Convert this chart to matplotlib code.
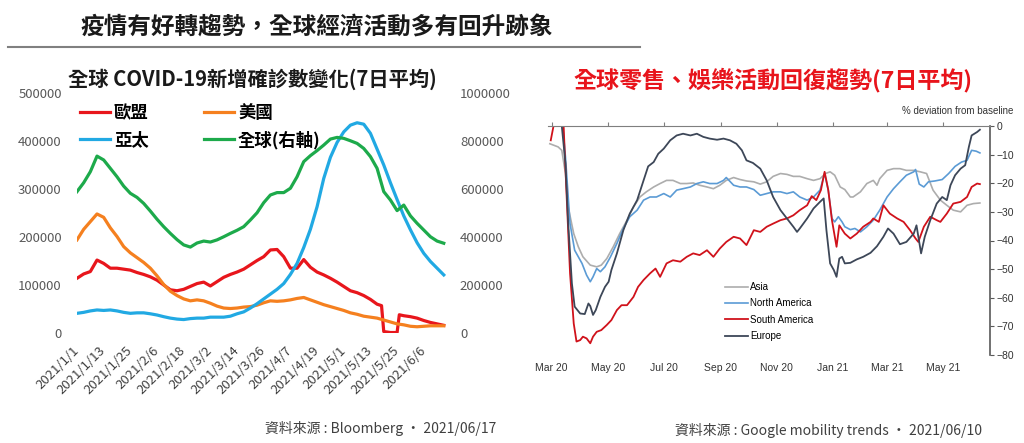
import numpy as np
import matplotlib
matplotlib.use("Agg")
import matplotlib.pyplot as plt
import matplotlib.dates as mdates
from matplotlib.lines import Line2D

plt.rcParams['font.family'] = ['Noto Sans CJK TC', 'DejaVu Sans']

# ---------- left chart: new cases, 7-day avg (days since 2021-01-01, values in thousands)
case_days = np.arange(0, 166, 3)
us_cases = [194, 216, 232, 248, 241, 219, 201, 180, 167, 157, 147, 135, 119, 101, 87, 78, 71, 67,
            69, 67, 62, 56, 52, 51, 52, 54, 55, 58, 63, 67, 66, 67, 69, 72, 74, 69, 64, 59, 55, 51,
            47, 42, 39, 35, 33, 31, 27, 23, 19, 17, 14, 13, 14, 15, 15, 15]
asia_cases = [41, 43, 46, 48, 47, 48, 46, 43, 41, 42, 42, 40, 37.5, 34, 31, 29, 28, 30, 31, 31, 33,
              33, 33, 35, 40, 44, 52, 61, 71, 81, 91, 103, 122, 145, 178, 216, 263, 322, 366, 397,
              419, 433, 438, 435, 416, 383, 350, 313, 278, 244, 215, 188, 166, 149, 135, 121]
global_cases = [589, 626, 672, 737, 721, 686, 651, 612, 582, 565, 540, 508, 474, 443, 415, 389, 367,
                358, 375, 383, 379, 388, 401, 415, 428, 443, 471, 501, 543, 575, 585, 585, 603, 651,
                714, 739, 760, 783, 808, 815, 811, 801, 790, 769, 735, 686, 589, 554, 510, 533, 488,
                457, 429, 401, 383, 374]
eu_days = [0, 3, 6, 9, 12, 15, 18, 21, 24, 27, 30, 33, 36, 39, 42, 45, 48, 51, 54, 57, 60, 63, 66,
           69, 72, 75, 78, 81, 84, 87, 90, 93, 96, 99, 102, 105, 108, 111, 114, 117, 120, 123, 126,
           129, 132, 135, 137, 138, 141, 144, 145, 147, 150, 153, 156, 159, 162, 165]
eu_cases = [114, 123, 128, 152, 145, 135, 135, 133, 131, 126, 122, 117, 110, 100, 90, 88, 91, 97,
            103, 106, 98, 107, 116, 122, 127, 133, 142, 151, 159, 173, 174, 159, 135, 135, 153, 137,
            127, 121, 114, 106, 97, 88, 84, 78, 70, 60, 57, 3, 1, 1, 38, 36, 34, 31, 26, 22, 19, 16]
case_ticks = np.arange(0, 157, 12)

# ---------- right chart: retail & recreation mobility (days since 2020-03-01, % vs baseline)
asia_days = [-2, 7, 11, 15, 18, 24, 29, 34, 42, 49, 54, 60, 67, 74, 82, 89, 96, 103, 111, 118, 125,
             132, 140, 147, 154, 161, 169, 176, 183, 190, 198, 205, 212, 220, 227, 234, 241, 249,
             256, 263, 270, 278, 285, 292, 298, 303, 308, 314, 319, 325, 328, 336, 343, 350, 354,
             357, 365, 372, 379, 386, 394, 401, 408, 415, 423, 430, 437, 445, 452, 459, 466]
asia_mob = [-6.2, -7.3, -8.5, -16.6, -28.3, -37.6, -42.2, -45.7, -48.6, -49.2, -48.6, -46.3, -42.2,
            -37.6, -32.9, -28.3, -24.8, -23.0, -21.3, -20.1, -19.0, -19.0, -20.1, -20.1, -19.9,
            -20.7, -21.3, -21.9, -20.7, -19.0, -18.0, -18.7, -19.2, -19.5, -20.3, -19.5, -17.6,
            -16.6, -16.9, -17.6, -17.6, -18.4, -19.0, -18.4, -16.6, -16.0, -17.2, -21.3, -22.2,
            -24.8, -24.8, -23.0, -20.1, -19.0, -20.7, -18.4, -15.5, -14.9, -14.9, -15.5, -15.5,
            -16.0, -16.6, -22.4, -25.9, -27.7, -29.4, -30.0, -27.7, -27.1, -26.9]
na_days = [12, 15, 20, 25, 33, 38, 42, 45, 49, 53, 58, 64, 71, 78, 85, 93, 100, 107, 114, 122, 129,
           136, 143, 151, 158, 165, 172, 180, 187, 190, 198, 205, 212, 220, 227, 234, 241, 249, 256,
           263, 270, 278, 285, 292, 297, 301, 305, 308, 312, 316, 319, 325, 330, 336, 343, 350, 357,
           365, 372, 379, 386, 394, 396, 400, 405, 410, 417, 425, 432, 439, 446, 452, 457, 462, 466]
na_mob = [0, -10.8, -34.1, -43.4, -48.0, -52.1, -54.4, -52.7, -49.8, -50.9, -49.2, -45.7, -41.0,
          -35.8, -31.7, -29.4, -25.9, -24.8, -24.8, -23.6, -24.8, -22.4, -21.9, -21.3, -20.1, -19.5,
          -20.1, -20.1, -19.0, -18.0, -20.7, -21.3, -21.3, -22.2, -24.2, -23.6, -23.0, -23.0, -23.6,
          -23.0, -24.8, -25.9, -24.8, -22.4, -16.6, -22.4, -32.3, -33.5, -31.7, -33.5, -35.2, -36.2,
          -35.8, -37.0, -35.2, -32.9, -29.4, -24.8, -21.9, -19.5, -17.2, -16.0, -15.2, -20.3, -21.3,
          -19.5, -19.2, -18.7, -16.6, -14.1, -12.6, -12.0, -8.5, -8.8, -9.4]
sa_days = [-1, 2, 5, 13, 16, 20, 24, 27, 31, 34, 38, 42, 45, 49, 54, 60, 65, 71, 76, 82, 89, 94, 100,
           107, 113, 118, 125, 132, 140, 147, 154, 161, 169, 176, 183, 190, 198, 205, 212, 220, 227,
           234, 241, 249, 256, 263, 270, 278, 283, 288, 293, 297, 301, 305, 310, 313, 319, 325, 332,
           339, 347, 350, 356, 361, 368, 376, 383, 390, 396, 399, 405, 412, 419, 423, 430, 437, 445,
           452, 457, 463, 466]
sa_mob = [-5.0, 0, 1.4, 0, -22.4, -51.5, -69.0, -75.3, -74.8, -73.6, -74.2, -75.9, -73.6, -71.9,
          -71.3, -69.5, -67.8, -64.3, -62.6, -62.6, -59.7, -56.2, -53.8, -51.5, -49.8, -52.7, -48.0,
          -46.9, -47.4, -45.7, -44.5, -45.1, -43.4, -45.7, -42.8, -40.5, -38.7, -39.3, -41.6, -36.4,
          -37.0, -35.2, -34.1, -32.9, -32.3, -31.2, -29.4, -27.7, -24.5, -25.9, -22.4, -16.0, -22.4,
          -32.9, -42.2, -34.7, -37.6, -39.3, -37.6, -35.2, -33.5, -32.3, -33.5, -27.7, -30.6, -32.3,
          -33.5, -36.4, -39.3, -40.5, -35.2, -31.7, -32.9, -33.5, -30.6, -27.1, -26.5, -24.8, -21.3,
          -20.1, -20.3]
eu_days_mob = [5, 11, 15, 18, 22, 25, 31, 36, 40, 42, 45, 48, 53, 58, 62, 65, 71, 78, 85, 93, 100,
               105, 111, 116, 122, 129, 136, 143, 151, 158, 165, 172, 180, 187, 194, 201, 207, 212,
               219, 227, 234, 241, 249, 256, 263, 267, 270, 278, 285, 292, 296, 299, 303, 307, 310,
               313, 316, 319, 325, 332, 339, 347, 354, 361, 366, 372, 379, 386, 394, 397, 402, 406,
               412, 419, 425, 430, 434, 439, 445, 450, 454, 457, 463, 466]
eu_mob = [1.4, 0, -13.1, -34.1, -55.0, -63.1, -65.5, -65.7, -62.0, -62.9, -66.0, -64.3, -59.7, -56.2,
          -54.4, -50.3, -44.5, -36.4, -30.6, -25.9, -19.0, -14.1, -12.6, -9.7, -7.9, -5.0, -3.3,
          -2.7, -3.3, -2.7, -3.8, -4.4, -4.8, -4.4, -5.0, -6.2, -8.5, -12.0, -12.9, -14.9, -19.0,
          -24.8, -29.4, -32.3, -35.2, -37.0, -35.8, -32.3, -28.8, -26.5, -25.3, -36.4, -48.0, -50.3,
          -52.7, -46.3, -45.7, -48.0, -47.8, -46.6, -45.7, -44.3, -42.0, -38.7, -35.8, -37.6, -41.3,
          -40.5, -37.6, -34.7, -44.5, -38.7, -32.9, -27.1, -24.8, -25.9, -20.7, -17.2, -14.9, -13.7,
          -7.3, -3.3, -2.1, -1.3]
mob_ticks = ['2020-03-01', '2020-05-01', '2020-07-01', '2020-09-01', '2020-11-01',
             '2021-01-01', '2021-03-01', '2021-05-01']

W, H = 1024, 443
fig = plt.figure(figsize=(W / 100, H / 100), dpi=100)

def fx(px):
    return px / W

def fy(py):
    return 1 - py / H

d0 = np.datetime64('2021-01-01')
m0 = np.datetime64('2020-03-01')

# ---- header
fig.text(fx(80), fy(28), '疫情有好轉趨勢，全球經濟活動多有回升跡象', fontsize=17,
         weight='bold', color='#1a1a1a', ha='left', va='center')
fig.add_artist(Line2D([fx(8), fx(640)], [fy(47), fy(47)], color='#808080', lw=1.5))

# ---- left chart
ax1 = fig.add_axes([fx(77), fy(333), fx(446) - fx(77), fy(93) - fy(333)])
ax1r = ax1.twinx()
red, orange, blue, green = '#E8161C', '#F5801F', '#21A9E3', '#1DAA4B'
lw = 2.3
l_eu, = ax1.plot(d0 + np.array(eu_days), np.array(eu_cases) * 1000, color=red, lw=lw, label='歐盟')
l_us, = ax1.plot(d0 + case_days, np.array(us_cases) * 1000, color=orange, lw=lw, label='美國')
l_as, = ax1.plot(d0 + case_days, np.array(asia_cases) * 1000, color=blue, lw=lw, label='亞太')
l_gl, = ax1r.plot(d0 + case_days, np.array(global_cases) * 1000, color=green, lw=lw,
                  label='全球(右軸)')
ax1.set_xlim(d0, d0 + 166)
ax1.set_ylim(0, 500000)
ax1r.set_ylim(0, 1000000)
for a in (ax1, ax1r):
    for s in a.spines.values():
        s.set_visible(False)
ax1.set_yticks(np.arange(0, 500001, 100000))
ax1.set_yticklabels([str(v) for v in range(0, 500001, 100000)])
ax1r.set_yticks(np.arange(0, 1000001, 200000))
ax1r.set_yticklabels([str(v) for v in range(0, 1000001, 200000)])
ax1.tick_params(axis='y', length=0, pad=11, labelsize=9.5, labelcolor='#595959')
ax1r.tick_params(axis='y', length=0, pad=10, labelsize=9.5, labelcolor='#595959')
tick_dates = d0 + case_ticks
ax1.set_xticks(tick_dates)
ax1.set_xticklabels([f"2021/{str(t)[5:7].lstrip('0')}/{str(t)[8:10].lstrip('0')}" for t in tick_dates],
                    rotation=45, ha='right', va='center', rotation_mode='anchor')
ax1.tick_params(axis='x', length=0, pad=11, labelsize=9.5, labelcolor='#404040')
fig.text(fx(252), fy(79), '全球 COVID-19新增確診數變化(7日平均)', fontsize=14.6, weight='bold',
         color='#1a1a1a', ha='center', va='center')
ax1r.legend(handles=[l_eu, l_as, l_us, l_gl], ncol=2, loc='upper left',
            bbox_to_anchor=(fx(80), fy(104)), bbox_transform=fig.transFigure, frameon=False,
            prop={'weight': 'bold', 'size': 12.5}, handlelength=1.7, handletextpad=0.25,
            columnspacing=3.2, labelspacing=0.5, borderpad=0, borderaxespad=0)
fig.text(fx(496), fy(428), '資料來源 : Bloomberg · 2021/06/17', fontsize=10, color='#404040',
         ha='right', va='center')

# ---- right chart
ax2 = fig.add_axes([fx(548), fy(355), fx(990) - fx(548), fy(126) - fy(355)])
sans = ['Liberation Sans', 'DejaVu Sans']
ax2.plot(m0 + np.array(asia_days), asia_mob, color='#ADADAD', lw=1.2, label='Asia')
ax2.plot(m0 + np.array(na_days), na_mob, color='#5B9BD5', lw=1.2, label='North America')
ax2.plot(m0 + np.array(sa_days), sa_mob, color='#D0121B', lw=1.3, label='South America')
ax2.plot(m0 + np.array(eu_days_mob), eu_mob, color='#3D4758', lw=1.3, label='Europe')
ax2.set_xlim(np.datetime64('2020-02-26'), np.datetime64('2021-06-21'))
ax2.set_ylim(-80, 0)
ax2.spines['left'].set_visible(False)
ax2.spines['bottom'].set_visible(False)
ax2.spines['top'].set_color('#7f7f7f')
ax2.spines['right'].set_color('#595959')
ax2.spines['right'].set_linewidth(1.2)
ax2.yaxis.tick_right()
ax2.set_yticks(np.arange(-80, 1, 10))
ax2.tick_params(axis='y', direction='out', length=3, pad=2, labelsize=7.5, labelcolor='#333333',
                color='#595959')
ax2.set_xticks(np.array(mob_ticks, dtype='datetime64[D]'))
ax2.xaxis.set_major_formatter(mdates.DateFormatter('%b %y'))
ax2.tick_params(axis='x', bottom=False, top=True, labelbottom=True, labeltop=False,
                direction='out', length=3, pad=3, labelsize=7.5, labelcolor='#333333',
                color='#7f7f7f')
for lab in ax2.get_xticklabels() + ax2.get_yticklabels():
    lab.set_family(sans)
ax2.legend(loc='upper left', bbox_to_anchor=(fx(725), fy(282)), bbox_transform=fig.transFigure,
           frameon=False, prop={'family': sans, 'size': 7}, handlelength=2.4, handletextpad=0.15,
           labelspacing=0.65, borderpad=0, borderaxespad=0)
fig.text(fx(1013), fy(111), '% deviation from baseline', fontsize=7, family=sans,
         color='#333333', ha='right', va='center')
fig.text(fx(773), fy(80), '全球零售、娛樂活動回復趨勢(7日平均)', fontsize=16.6, weight='bold',
         color='#E8141B', ha='center', va='center')
fig.text(fx(982), fy(430), '資料來源 : Google mobility trends · 2021/06/10', fontsize=10,
         color='#404040', ha='right', va='center')

fig.savefig('out.png', dpi=100)
